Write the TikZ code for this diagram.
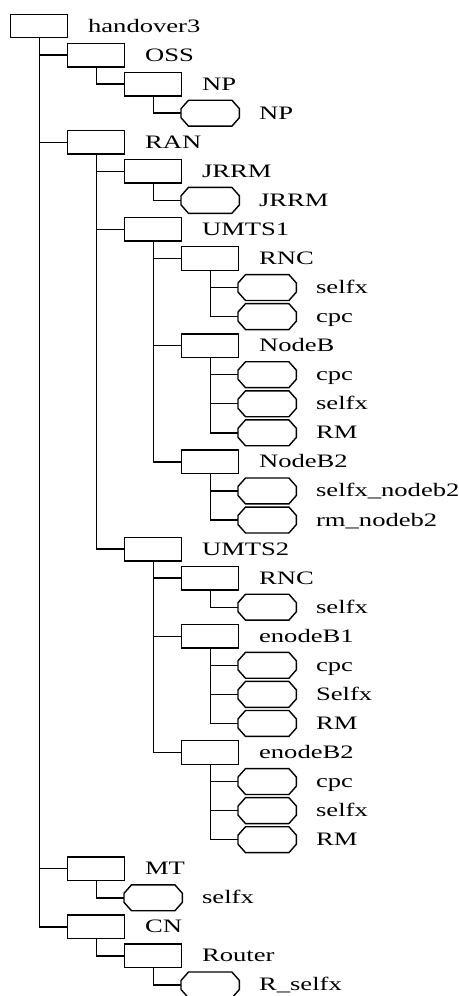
\documentclass[tikz,border=0pt]{standalone}
\usepackage{fontspec}
\setmainfont{Liberation Serif}

\begin{document}
\begin{tikzpicture}[
    x=57pt, y=29.06pt,
    line width=1.4pt,
    every label/.style={inner sep=0pt, text height=12pt, text depth=0pt,
      font=\fontsize{19}{21}\selectfont},
    label distance=19pt,
    tag/.style={label={right:{\scalebox{1.4}[1]{#1}}}},
    dirbox/.style={
      rectangle, draw, anchor=west, inner sep=0pt,
      minimum width=57pt, minimum height=23.5pt
    },
    leafbox/.style={
      rectangle, anchor=west, inner sep=0pt,
      minimum width=57pt, minimum height=24.5pt,
      append after command={\pgfextra{
        \draw ([yshift=4.5pt]\tikzlastnode.west)
          -- ([xshift=7.5pt]\tikzlastnode.north west)
          -- ([xshift=-7.5pt]\tikzlastnode.north east)
          -- ([yshift=4.5pt]\tikzlastnode.east)
          -- ([yshift=-4.5pt]\tikzlastnode.east)
          -- ([xshift=-7.5pt]\tikzlastnode.south east)
          -- ([xshift=7.5pt]\tikzlastnode.south west)
          -- ([yshift=-4.5pt]\tikzlastnode.west) -- cycle;}}
    },
  ]
  \useasboundingbox (-10pt,26pt) rectangle (448pt,-970pt);

  % Root and OSS branch
  \node[dirbox, tag=handover3] (root) at (0,0) {};
  \node[dirbox, tag=OSS]  (oss)   at (1,-1) {};
  \node[dirbox, tag=NP]   (np)    at (2,-2) {};
  \node[leafbox, tag=NP]  (npleaf) at (3,-3) {};

  % RAN branch
  \node[dirbox, tag=RAN]  (ran)   at (1,-4) {};
  \node[dirbox, tag=JRRM] (jrrm)  at (2,-5) {};
  \node[leafbox, tag=JRRM] (jrrmleaf) at (3,-6) {};

  % UMTS1
  \node[dirbox, tag=UMTS1] (umtsa) at (2,-7) {};
  \node[dirbox, tag=RNC]   (rnca)  at (3,-8) {};
  \node[leafbox, tag=selfx] (rncaself) at (4,-9) {};
  \node[leafbox, tag=cpc]   (rncacpc)  at (4,-10) {};
  \node[dirbox, tag=NodeB]  (nodeb)    at (3,-11) {};
  \node[leafbox, tag=cpc]   (nodebcpc) at (4,-12) {};
  \node[leafbox, tag=selfx] (nodebself) at (4,-13) {};
  \node[leafbox, tag=RM]    (nodebrm)  at (4,-14) {};
  \node[dirbox, tag=NodeB2] (nodebb)   at (3,-15) {};
  \node[leafbox, tag=selfx\_nodeb2] (nodebbself) at (4,-16) {};
  \node[leafbox, tag=rm\_nodeb2]    (nodebbrm)   at (4,-17) {};

  % UMTS2
  \node[dirbox, tag=UMTS2]  (umtsb) at (2,-18) {};
  \node[dirbox, tag=RNC]    (rncb)  at (3,-19) {};
  \node[leafbox, tag=selfx] (rncbself) at (4,-20) {};
  \node[dirbox, tag=enodeB1] (enba)    at (3,-21) {};
  \node[leafbox, tag=cpc]    (enbacpc) at (4,-22) {};
  \node[leafbox, tag=Selfx]  (enbaself) at (4,-23) {};
  \node[leafbox, tag=RM]     (enbarm)  at (4,-24) {};
  \node[dirbox, tag=enodeB2] (enbb)    at (3,-25) {};
  \node[leafbox, tag=cpc]    (enbbcpc) at (4,-26) {};
  \node[leafbox, tag=selfx]  (enbbself) at (4,-27) {};
  \node[leafbox, tag=RM]     (enbbrm)  at (4,-28) {};

  % MT and CN
  \node[dirbox, tag=MT]     (mt)     at (1,-29) {};
  \node[leafbox, tag=selfx] (mtself) at (2,-30) {};
  \node[dirbox, tag=CN]     (cn)     at (1,-31) {};
  \node[dirbox, tag=Router] (router) at (2,-32) {};
  \node[leafbox, tag=R\_selfx] (routerself) at (3,-33) {};

  % Edges -- top level
  \draw (root.south) |- (oss.west);
  \draw (root.south) |- (ran.west);
  \draw (root.south) |- (mt.west);
  \draw (root.south) |- (cn.west);

  % OSS / RAN
  \draw (oss.south)  |- (np.west);
  \draw (np.south)   |- (npleaf.west);
  \draw (ran.south)  |- (jrrm.west);
  \draw (ran.south)  |- (umtsa.west);
  \draw (ran.south)  |- (umtsb.west);
  \draw (jrrm.south) |- (jrrmleaf.west);

  % UMTS1
  \draw (umtsa.south) |- (rnca.west);
  \draw (umtsa.south) |- (nodeb.west);
  \draw (umtsa.south) |- (nodebb.west);
  \draw (rnca.south)  |- (rncaself.west);
  \draw (rnca.south)  |- (rncacpc.west);
  \draw (nodeb.south) |- (nodebcpc.west);
  \draw (nodeb.south) |- (nodebself.west);
  \draw (nodeb.south) |- (nodebrm.west);
  \draw (nodebb.south) |- (nodebbself.west);
  \draw (nodebb.south) |- (nodebbrm.west);

  % UMTS2
  \draw (umtsb.south) |- (rncb.west);
  \draw (umtsb.south) |- (enba.west);
  \draw (umtsb.south) |- (enbb.west);
  \draw (rncb.south)  |- (rncbself.west);
  \draw (enba.south)  |- (enbacpc.west);
  \draw (enba.south)  |- (enbaself.west);
  \draw (enba.south)  |- (enbarm.west);
  \draw (enbb.south)  |- (enbbcpc.west);
  \draw (enbb.south)  |- (enbbself.west);
  \draw (enbb.south)  |- (enbbrm.west);

  % MT / CN
  \draw (mt.south)     |- (mtself.west);
  \draw (cn.south)     |- (router.west);
  \draw (router.south) |- (routerself.west);

\end{tikzpicture}
\end{document}
